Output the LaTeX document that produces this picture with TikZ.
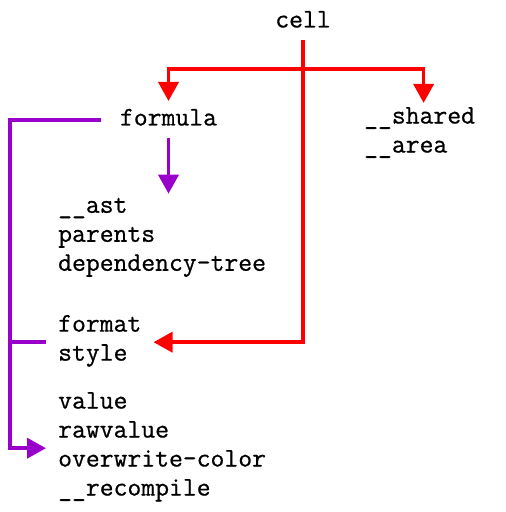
\documentclass[tikz,border=0pt]{standalone}
\usepackage{fontspec}
\newfontfamily\fieldfont{Latin Modern Mono}[FakeBold=0.7]
\usetikzlibrary{arrows.meta}
\definecolor{cellred}{HTML}{FF0000}
\definecolor{fmlpurple}{HTML}{9900CC}
\tikzset{%
  >={Triangle[width=20pt,length=19pt]},
  % Specifications for style of nodes:
      field/.style = {inner xsep=12pt, inner ysep=4pt, align=left,
                      font=\fieldfont\fontsize{26.9}{29}\selectfont,
                      execute at begin node=\strut,
                      execute at end node=\strut},
   cellline/.style = {draw=cellred, line width=3.7pt},
    fmlline/.style = {draw=fmlpurple, line width=3.7pt},
}

\begin{document}
\begin{tikzpicture}[x=1pt, y=1pt]
  \useasboundingbox (0,0) rectangle (506,512);
  % Specification of nodes (position, etc.)
  \node (cell)     [field]                  at (303,490.3) {cell};
  \node (formula)  [field]                  at (168.5,392.3) {formula};
  \node (shared)   [field, anchor=west]     at (352,377.8) {\_\_shared\\\_\_area};
  \node (astblock) [field, anchor=west]     at (46,273.3)
        {\_\_ast\\parents\\dependency-tree};
  \node (fmtblock) [field, anchor=west]     at (46,169.8) {format\\style};
  \node (valblock) [field, anchor=west]     at (46,63.8)
        {value\\rawvalue\\overwrite-color\\\_\_recompile};
  \coordinate (split) at (303,443);
  \coordinate (rail)  at (10,0);

  \draw[cellline, ->] (cell.south) |- (fmtblock.east);
  \draw[cellline, ->] (split) -| (formula.north);
  \draw[cellline, ->] (split) -| ([xshift=4pt]shared.north);

  \draw[fmlline, ->]  (formula.south) -- (formula.south |- astblock.north);
  \draw[fmlline, ->]  ([xshift=-7pt]formula.west) -- (rail |- formula.west)
                      |- (valblock.west);
  \draw[fmlline]      (rail |- fmtblock.west) -- (fmtblock.west);
\end{tikzpicture}
\end{document}
